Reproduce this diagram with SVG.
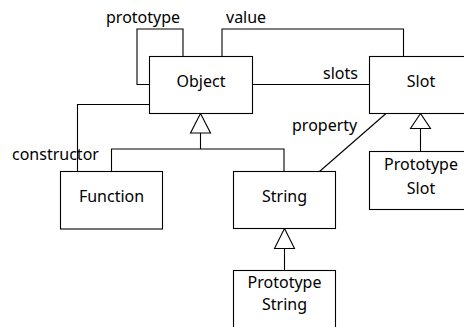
<svg xmlns="http://www.w3.org/2000/svg" width="464" height="327" viewBox="0 0 464 327">
<style>
rect{fill:#fff;stroke:#000;stroke-width:1.1}
.c path,.c line{fill:none;stroke:#000;stroke-width:1.1}
.c polygon{fill:#fff;stroke:#000;stroke-width:1.1}
text{font-family:"Noto Sans","Open Sans","DejaVu Sans",sans-serif;font-size:16px;fill:#000}
.m{text-anchor:middle}
</style>
<rect width="464" height="327" style="fill:#fff;stroke:none"/>
<g class="c" id="connectors">
<path d="M183,56.5 V29 H137 V84.5 H149.5"/>
<path d="M222,56.5 V29 H403.5 V56.5"/>
<line x1="252.5" y1="84.5" x2="369.5" y2="84.5"/>
<path d="M149.5,104.5 H77.5 V171.5"/>
<line x1="319.5" y1="171.5" x2="386" y2="113.5"/>
<path d="M111.5,171.5 V149 H284 V171.5"/>
<line x1="200.5" y1="133" x2="200.5" y2="149"/>
<polygon points="200.5,113.5 190.5,133 210.5,133"/>
<line x1="420.5" y1="128.5" x2="420.5" y2="151.5"/>
<polygon points="420.5,113.5 410.5,128.5 430.5,128.5"/>
<line x1="284.5" y1="248.5" x2="284.5" y2="270.5"/>
<polygon points="284.5,228.5 274.5,248.5 294.5,248.5"/>
<text x="106" y="23">prototype</text>
<text x="226" y="23">value</text>
<text x="323" y="79">slots</text>
<text x="12" y="160">constructor</text>
<text x="292" y="131">property</text>
</g>
<g id="object"><rect x="149.5" y="56.5" width="103" height="57"/><text class="m" x="201" y="87">Object</text></g>
<g id="slot"><rect x="369.5" y="56.5" width="103" height="57"/><text class="m" x="421" y="87">Slot</text></g>
<g id="function"><rect x="60.5" y="171.5" width="102" height="57.5"/><text class="m" x="111.5" y="202">Function</text></g>
<g id="string"><rect x="233.5" y="171.5" width="102" height="57"/><text class="m" x="284.5" y="202">String</text></g>
<g id="prototype-slot"><rect x="369.5" y="151.5" width="103" height="58"/><text class="m" x="421" y="170">Prototype</text><text class="m" x="421" y="194">Slot</text></g>
<g id="prototype-string"><rect x="233.5" y="270.5" width="102" height="70"/><text class="m" x="284.5" y="288">Prototype</text><text class="m" x="284.5" y="310">String</text></g>
</svg>
